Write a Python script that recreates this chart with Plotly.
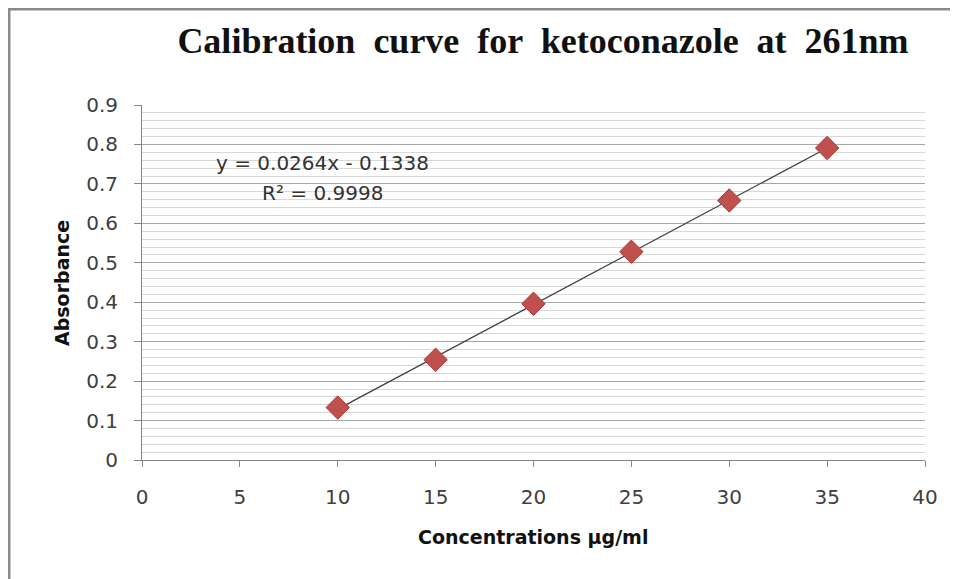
import numpy as np
import plotly.graph_objects as go

concentration = [10, 15, 20, 25, 30, 35]
absorbance = [0.133, 0.254, 0.396, 0.528, 0.658, 0.791]
eq_text = "y = 0.0264x - 0.1338"
r2_text = "R² = 0.9998"
x_ticks = [0, 5, 10, 15, 20, 25, 30, 35, 40]
y_ticks = [0, 0.1, 0.2, 0.3, 0.4, 0.5, 0.6, 0.7, 0.8, 0.9]

slope, intercept = np.polyfit(concentration, absorbance, 1)
fit_x = [min(concentration), max(concentration)]
fit_y = [slope * v + intercept for v in fit_x]

fig = go.Figure()
fig.add_trace(go.Scatter(x=fit_x, y=fit_y, mode="lines",
                         line=dict(color="#3f3f3f", width=1.2), showlegend=False))
fig.add_trace(go.Scatter(x=concentration, y=absorbance, mode="markers",
                         marker=dict(symbol="diamond", size=18, color="#c0504d",
                                     line=dict(color="#a93a37", width=1)),
                         showlegend=False))

OFF = 8  # browser body margin
W, H = 958 - OFF, 579 - OFF
PL, PR, PT, PB = 142, 925, 105, 460  # plot area in page pixels
L, T = PL - OFF, PT - OFF
R, B = W - (PR - OFF), H - (PB - OFF)
pw, ph = PR - PL, PB - PT


def px(x):
    return (x - PL) / pw


def py(y):
    return (PB - y) / ph


SANS = "DejaVu Sans, Verdana, sans-serif"

fig.update_layout(
    width=W, height=H,
    margin=dict(l=L, r=R, t=T, b=B),
    paper_bgcolor="white", plot_bgcolor="white",
    title=dict(text="<b>Calibration  curve  for  ketoconazole  at  261nm</b>",
               font=dict(family="Liberation Serif, Times New Roman, serif", size=36, color="#111111"),
               x=(543 - OFF) / W, xanchor="center", y=1 - (40 - OFF) / H, yanchor="middle"),
    xaxis=dict(range=[0, 40], tickvals=x_ticks, showgrid=False, zeroline=False,
               showline=True, linecolor="#868686", linewidth=1,
               ticks="outside", ticklen=6, tickcolor="#868686", ticklabelstandoff=13,
               tickfont=dict(family=SANS, size=20, color="#404040")),
    yaxis=dict(range=[0, 0.9], tickvals=y_ticks, ticktext=[("%g" % v) for v in y_ticks],
               showgrid=True, gridcolor="#a6a6a6", gridwidth=1, zeroline=False,
               showline=True, linecolor="#868686", linewidth=1,
               ticks="outside", ticklen=7, tickcolor="#868686", ticklabelstandoff=12,
               tickfont=dict(family=SANS, size=20, color="#404040"),
               minor=dict(dtick=0.02, showgrid=True, gridcolor="#d9d9d9", gridwidth=1)),
    annotations=[
        dict(x=px(322), y=py(163), xref="paper", yref="paper",
             text=eq_text, showarrow=False, xanchor="center", yanchor="middle",
             font=dict(family=SANS, size=20, color="#333333")),
        dict(x=px(322), y=py(193), xref="paper", yref="paper",
             text=r2_text, showarrow=False, xanchor="center", yanchor="middle",
             font=dict(family=SANS, size=20, color="#333333")),
        dict(x=px(62), y=py(283), xref="paper", yref="paper", textangle=-90,
             text="<b>Absorbance</b>", showarrow=False, xanchor="center", yanchor="middle",
             font=dict(family=SANS, size=19, color="#111111")),
        dict(x=px(533), y=py(537), xref="paper", yref="paper",
             text="<b>Concentrations µg/ml</b>", showarrow=False, xanchor="center", yanchor="middle",
             font=dict(family=SANS, size=19, color="#111111")),
    ],
    shapes=[dict(type="rect", xref="paper", yref="paper",
                 x0=px(9), x1=px(990), y0=py(620), y1=py(9),
                 line=dict(color="#8a8a8a", width=3), layer="below")],
)

fig.write_html("out.html")
